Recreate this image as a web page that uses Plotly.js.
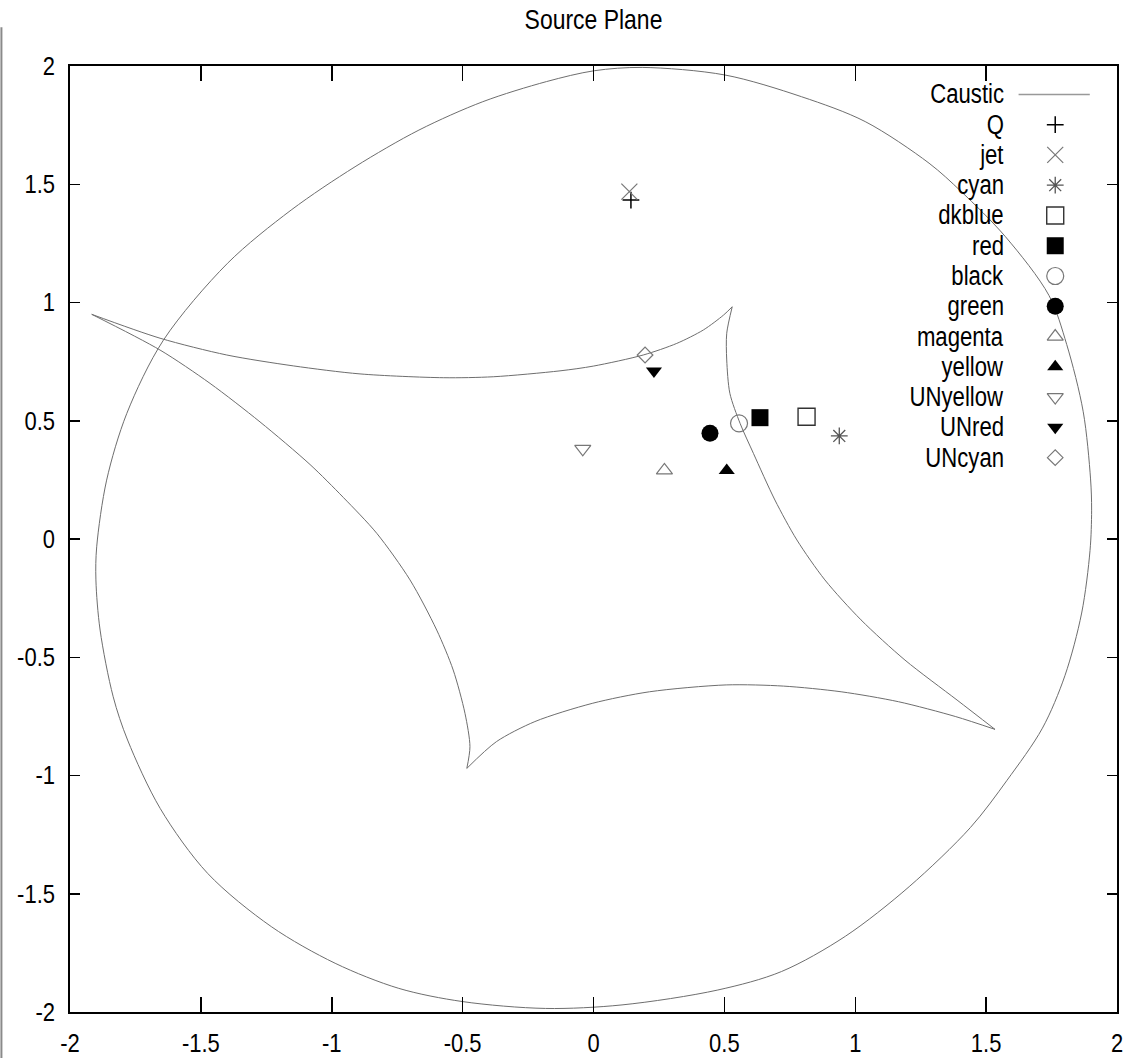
<!DOCTYPE html>
<html>
<head>
<meta charset="utf-8">
<script src="https://cdn.plot.ly/plotly-3.0.1.min.js"></script>
<style>html,body{margin:0;padding:0;background:#fff;}#chart{width:1132px;height:1058px;}</style>
</head>
<body>
<div id="chart"></div>
<script>
// ---------- data ----------
const tickVals = [-2, -1.5, -1, -0.5, 0, 0.5, 1, 1.5, 2];
const tickText = ['-2', '-1.5', '-1', '-0.5', '0', '0.5', '1', '1.5', '2'];

// outer caustic (closed oval)
const outerX = [-0.180, 0.003, 0.186, 0.502, 0.795, 1.038, 1.282, 1.404, 1.574, 1.740, 1.808, 1.871, 1.899, 1.903, 1.897, 1.865, 1.801, 1.715, 1.580, 1.440, 1.206, 0.962, 0.718, 0.475, 0.109, -0.183, -0.500, -0.744, -0.987, -1.231, -1.474, -1.655, -1.780, -1.835, -1.885, -1.901, -1.898, -1.860, -1.783, -1.643, -1.398, -1.155, -0.911, -0.667, -0.423, -0.180];
const outerY = [1.934, 1.980, 1.994, 1.962, 1.870, 1.765, 1.589, 1.470, 1.278, 1.030, 0.822, 0.538, 0.254, 0.122, -0.048, -0.313, -0.578, -0.800, -1.020, -1.220, -1.470, -1.680, -1.829, -1.907, -1.970, -1.985, -1.956, -1.900, -1.794, -1.639, -1.414, -1.140, -0.850, -0.667, -0.385, -0.173, -0.033, 0.249, 0.531, 0.841, 1.166, 1.391, 1.574, 1.729, 1.849, 1.934];

// inner caustic, four edges between cusps
const topEdgeX = [-1.917, -1.656, -1.401, -1.147, -0.892, -0.574, -0.383, -0.128, -0.001, 0.190, 0.318, 0.420, 0.497, 0.530];
const topEdgeY = [0.950, 0.849, 0.778, 0.732, 0.698, 0.682, 0.686, 0.711, 0.731, 0.778, 0.827, 0.884, 0.947, 0.982];
const rightEdgeX = [0.530, 0.509, 0.509, 0.521, 0.560, 0.611, 0.693, 0.777, 0.884, 1.022, 1.190, 1.389, 1.534];
const rightEdgeY = [0.982, 0.870, 0.757, 0.616, 0.489, 0.362, 0.165, -0.004, -0.173, -0.342, -0.512, -0.681, -0.805];
const bottomEdgeX = [-0.484, -0.371, -0.224, -0.005, 0.214, 0.507, 0.726, 0.946, 1.165, 1.384, 1.534];
const bottomEdgeY = [-0.970, -0.857, -0.772, -0.695, -0.646, -0.617, -0.622, -0.646, -0.688, -0.751, -0.805];
const leftEdgeX = [-1.917, -1.656, -1.465, -1.274, -1.083, -0.956, -0.828, -0.701, -0.599, -0.536, -0.491, -0.472, -0.484];
const leftEdgeY = [0.950, 0.799, 0.658, 0.495, 0.315, 0.176, 0.024, -0.173, -0.385, -0.554, -0.737, -0.878, -0.970];

// source points
const pointNames = ['Q', 'jet', 'cyan', 'dkblue', 'red', 'black', 'green', 'magenta', 'yellow', 'UNyellow', 'UNred', 'UNcyan'];
const pointX = [0.143, 0.137, 0.939, 0.814, 0.636, 0.556, 0.445, 0.271, 0.509, -0.041, 0.231, 0.197];
const pointY = [1.433, 1.469, 0.436, 0.517, 0.513, 0.489, 0.447, 0.290, 0.290, 0.381, 0.710, 0.778];
const curveName = 'Caustic';

// ---------- styling ----------
const FONT = "'Liberation Sans', Arial, sans-serif";
const styles = {
  'Q':        {symbol: 'cross-thin-open',    color: '#000000', size: 12, w: 1.5},
  'jet':      {symbol: 'x-thin-open',        color: '#777777', size: 16, w: 1.2},
  'cyan':     {symbol: 'asterisk-open',      color: '#555555', size: 14, w: 1.3},
  'dkblue':   {symbol: 'square-open',        color: '#333333', size: 17, w: 1.4},
  'red':      {symbol: 'square',             color: '#000000', size: 17, w: 0},
  'black':    {symbol: 'circle-open',        color: '#777777', size: 17, w: 1.2},
  'green':    {symbol: 'circle',             color: '#000000', size: 17, w: 0},
  'magenta':  {symbol: 'triangle-up-open',   color: '#777777', size: 14, w: 1.2},
  'yellow':   {symbol: 'triangle-up',        color: '#000000', size: 14, w: 0},
  'UNyellow': {symbol: 'triangle-down-open', color: '#777777', size: 14, w: 1.2},
  'UNred':    {symbol: 'triangle-down',      color: '#000000', size: 14, w: 0},
  'UNcyan':   {symbol: 'diamond-open',       color: '#777777', size: 12, w: 1.2}
};
const curveColor = '#6e6e6e';

function markerFor(name) {
  const s = styles[name];
  return {symbol: s.symbol, size: s.size, color: s.color, line: {color: s.color, width: s.w}};
}

// join edges with gaps so that cusps stay sharp
const innerX = [].concat(topEdgeX, [null], rightEdgeX, [null], bottomEdgeX, [null], leftEdgeX);
const innerY = [].concat(topEdgeY, [null], rightEdgeY, [null], bottomEdgeY, [null], leftEdgeY);

const traces = [];
traces.push({
  type: 'scatter', mode: 'lines', name: curveName, x: outerX, y: outerY,
  line: {color: curveColor, width: 1, shape: 'spline', smoothing: 0.9},
  showlegend: false, hoverinfo: 'skip'
});
traces.push({
  type: 'scatter', mode: 'lines', name: curveName, x: innerX, y: innerY, connectgaps: false,
  line: {color: curveColor, width: 1, shape: 'spline', smoothing: 0.8},
  showlegend: false, hoverinfo: 'skip'
});
pointNames.forEach((n, i) => {
  traces.push({
    type: 'scatter', mode: 'markers', name: n, x: [pointX[i]], y: [pointY[i]],
    marker: markerFor(n), showlegend: false, cliponaxis: false
  });
});

// ---------- gnuplot-style key (text left, symbol right) ----------
const keyNames = [curveName].concat(pointNames);
const keyTextX = 0.894, keySymX = 0.941, keyLineX0 = 0.906, keyLineX1 = 0.974;
const keyTop = 0.970, keyStep = 0.0320;
const annotations = [];
keyNames.forEach((n, i) => {
  const yy = keyTop - i * keyStep;
  annotations.push({
    xref: 'paper', yref: 'paper', x: keyTextX, y: yy, xanchor: 'right', yanchor: 'middle', align: 'right',
    text: n, showarrow: false, font: {family: FONT, size: 27, color: '#000'}
  });
  if (i === 0) {
    traces.push({
      type: 'scatter', mode: 'lines', xaxis: 'x2', yaxis: 'y2',
      x: [keyLineX0, keyLineX1], y: [yy, yy],
      line: {color: '#999999', width: 1.5}, showlegend: false, hoverinfo: 'skip'
    });
  } else {
    traces.push({
      type: 'scatter', mode: 'markers', xaxis: 'x2', yaxis: 'y2',
      x: [keySymX], y: [yy], marker: markerFor(n), showlegend: false, hoverinfo: 'skip', cliponaxis: false
    });
  }
});

const axisCommon = {
  range: [-2, 2], tickmode: 'array', tickvals: tickVals, ticktext: tickText,
  ticks: 'inside', tickwidth: 1.5, tickcolor: '#000',
  showline: true, linewidth: 2, linecolor: '#000', mirror: 'ticks',
  showgrid: false, zeroline: false,
  tickfont: {family: FONT, size: 25, color: '#000'}
};

const layout = {
  width: 1132, height: 1058,
  margin: {l: 70, r: 15, t: 66, b: 46, pad: 0},
  paper_bgcolor: '#ffffff', plot_bgcolor: '#ffffff',
  font: {family: FONT, color: '#000'},
  showlegend: false,
  title: {text: 'Source Plane', font: {family: FONT, size: 28, color: '#000'},
          xref: 'paper', x: 0.5, xanchor: 'center', yref: 'container', y: 0.982, yanchor: 'middle'},
  xaxis: Object.assign({}, axisCommon, {ticklen: 15, ticklabelstandoff: 8}),
  yaxis: Object.assign({}, axisCommon, {ticklen: 10, ticklabelstandoff: 8}),
  xaxis2: {overlaying: 'x', anchor: 'y2', range: [0, 1], visible: false, fixedrange: true},
  yaxis2: {overlaying: 'y', anchor: 'x2', range: [0, 1], visible: false, fixedrange: true},
  annotations: annotations,
  shapes: [{type: 'line', xref: 'paper', yref: 'paper', x0: -0.0655, x1: -0.0655, y0: 1.041, y1: -0.06,
            line: {color: '#8a8a8a', width: 2}}]
};

// the reference uses a narrow sans face: compress glyph widths of the real text
function narrowText(gd) {
  gd.querySelectorAll('svg text').forEach(t => {
    const L = t.getComputedTextLength ? t.getComputedTextLength() : 0;
    if (L > 0) {
      const isTick = t.closest('.xtick, .ytick');
      const f = isTick ? 0.88 : 0.82;
      t.setAttribute('textLength', (L * f).toFixed(1));
      t.setAttribute('lengthAdjust', 'spacingAndGlyphs');
    }
  });
}

Plotly.newPlot('chart', traces, layout, {staticPlot: true, displayModeBar: false}).then(narrowText);
</script>
</body>
</html>
